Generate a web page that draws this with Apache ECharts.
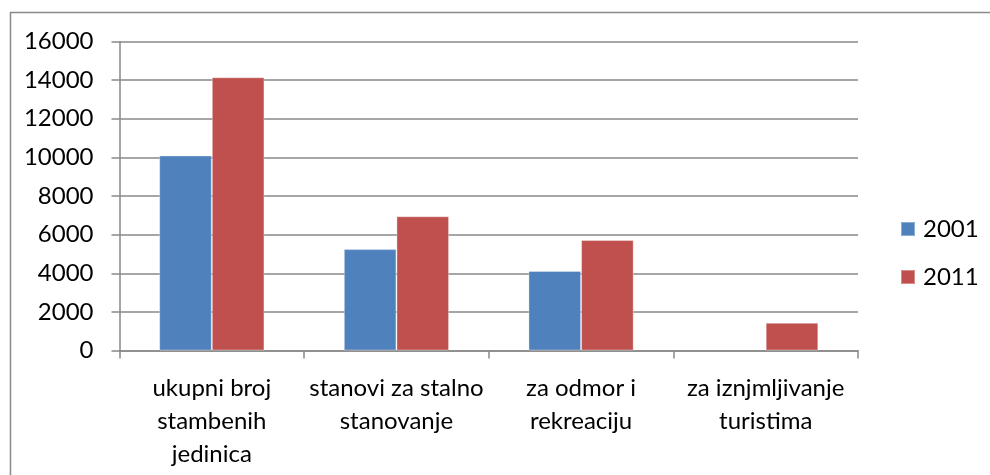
<!DOCTYPE html>
<html>
<head>
<meta charset="utf-8">
<script src="https://cdn.jsdelivr.net/npm/echarts@6/dist/echarts.min.js"></script>
<style>
html,body{margin:0;padding:0;background:#fff;}
#chart{width:990px;height:475px;}
</style>
</head>
<body>
<div id="chart"></div>
<script>
var categories = ['ukupni broj\nstambenih\njedinica', 'stanovi za stalno\nstanovanje', 'za odmor i\nrekreaciju', 'za iznjmljivanje\nturistima'];
var seriesNames = ['2001', '2011'];
var values2001 = [10100, 5250, 4120, null];
var values2011 = [14150, 6950, 5720, 1440];
var yTicks = [0, 2000, 4000, 6000, 8000, 10000, 12000, 14000, 16000];

var FONT = 'Lato, "Liberation Sans", sans-serif';
var GRAY = '#898989';
var chart = echarts.init(document.getElementById('chart'), null, {renderer: 'canvas'});
chart.setOption({
  animation: false,
  backgroundColor: '#ffffff',
  textStyle: {fontFamily: FONT},
  graphic: [{
    type: 'rect',
    shape: {x: 10.5, y: 12.5, width: 1000, height: 500},
    style: {fill: 'none', stroke: GRAY, lineWidth: 1.5},
    silent: true
  }],
  grid: {left: 119.5, right: 132, top: 41.5, bottom: 124.5},
  legend: {
    orient: 'vertical',
    left: 895,
    top: 212,
    icon: 'rect',
    itemWidth: 14,
    itemHeight: 14,
    itemGap: 24,
    textStyle: {fontFamily: FONT, fontSize: 24, color: '#000', lineHeight: 22, padding: [0, 0, 0, 3]},
    data: seriesNames
  },
  xAxis: {
    type: 'category',
    data: categories,
    axisLine: {show: true, lineStyle: {color: GRAY, width: 1.5}},
    axisTick: {show: true, length: 8, alignWithLabel: false, lineStyle: {color: GRAY, width: 1.5}},
    axisLabel: {interval: 0, margin: 21, fontFamily: FONT, fontSize: 24, color: '#000', lineHeight: 33, align: 'center'},
    splitLine: {show: false}
  },
  yAxis: {
    type: 'value',
    min: yTicks[0],
    max: yTicks[yTicks.length - 1],
    interval: 2000,
    axisLine: {show: true, lineStyle: {color: GRAY, width: 1.5}},
    axisTick: {show: true, length: 8, lineStyle: {color: GRAY, width: 1.5}},
    axisLabel: {margin: 26, fontFamily: FONT, fontSize: 24, color: '#000', formatter: function (v) { return String(v); }},
    splitLine: {show: true, lineStyle: {color: GRAY, width: 1.5}}
  },
  series: [
    {
      name: seriesNames[0], type: 'bar', data: values2001,
      barGap: '0%', barCategoryGap: '43%',
      itemStyle: {color: '#4F81BD', borderColor: 'rgba(255,255,255,0.35)', borderWidth: 1}
    },
    {
      name: seriesNames[1], type: 'bar', data: values2011,
      barGap: '0%', barCategoryGap: '43%',
      itemStyle: {color: '#C0504D', borderColor: 'rgba(255,255,255,0.35)', borderWidth: 1}
    }
  ]
});
</script>
</body>
</html>
